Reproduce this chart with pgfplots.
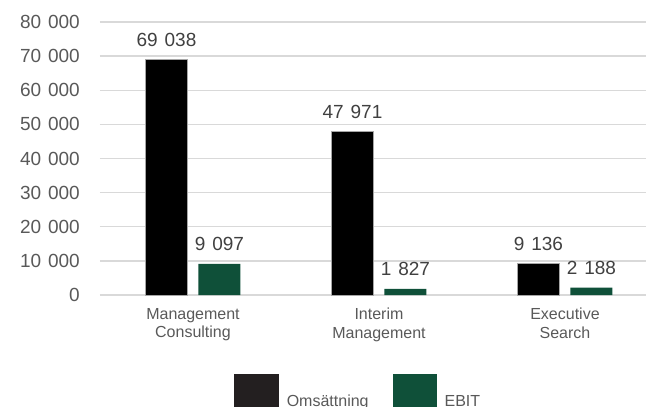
\documentclass[border=0pt]{standalone}
\usepackage{fontspec}
\setmainfont{Liberation Sans}
\usepackage{pgfplots}
\pgfplotsset{compat=1.18}
\definecolor{gridgray}{HTML}{D9D9D9}
\definecolor{ticktext}{HTML}{595959}
\definecolor{labeltext}{HTML}{404040}
\definecolor{ebitgreen}{HTML}{0F5039}
\definecolor{omsblack}{HTML}{231F20}
\newcommand{\ts}{\hspace{0.36em}}
\begin{document}
\begin{tikzpicture}
\begin{axis}[
    at={(0,0)}, anchor=south west,
    scale only axis, width=546pt, height=273pt,
    xmin=-0.5, xmax=2.4355, ymin=0, ymax=80000,
    scaled y ticks=false,
    ybar=11pt, bar width=42pt,
    axis line style={draw=none},
    major tick length=0pt,
    ymajorgrids, grid style={gridgray, line width=1.3pt},
    xtick={0,1,2},
    xticklabels={Management\\Consulting, Interim\\Management, Executive\\Search},
    xticklabel style={align=center, anchor=north, inner sep=0pt, yshift=-13pt,
        text=ticktext, font=\fontsize{16}{18.5}\selectfont},
    ytick={0,10000,...,80000},
    yticklabels={0, 10\ts000, 20\ts000, 30\ts000, 40\ts000, 50\ts000, 60\ts000, 70\ts000, 80\ts000},
    yticklabel style={anchor=east, inner sep=0pt, xshift=-20pt,
        text=ticktext, font=\fontsize{19}{22}\selectfont},
    point meta=explicit symbolic,
    nodes near coords,
    every node near coord/.append style={anchor=base, yshift=13pt, inner sep=0pt,
        text=labeltext, font=\fontsize{19}{22}\selectfont},
    legend columns=-1,
    legend style={at={(0.2454,-0.2894)}, anchor=north west, draw=none,
        inner sep=0pt, outer sep=0pt, nodes={inner sep=0pt},
        cells={anchor=west}, text=ticktext, font=\fontsize{16}{18.5}\selectfont,
        /tikz/every odd column/.append style={column sep=8pt},
        /tikz/every even column/.append style={column sep=24pt}},
]
\addplot[fill=black, draw=gray!70, line width=0.8pt,
    legend image code/.code={\fill[omsblack] (0pt,-22pt) rectangle (44pt,22pt);}]
    coordinates {(0,69038) [69\ts038] (1,47971) [47\ts971] (2,9136) [9\ts136]};
\addplot[fill=ebitgreen, draw=none,
    legend image code/.code={\fill[ebitgreen] (0pt,-22pt) rectangle (44pt,22pt);}]
    coordinates {(0,9097) [9\ts097] (1,1827) [1\ts827] (2,2188) [2\ts188]};
\legend{\raisebox{-10pt}{Omsättning}, \raisebox{-10pt}{EBIT}}
\end{axis}
\pgfresetboundingbox
\path (-100pt,-112pt) rectangle (546pt,295pt);
\end{tikzpicture}
\end{document}
